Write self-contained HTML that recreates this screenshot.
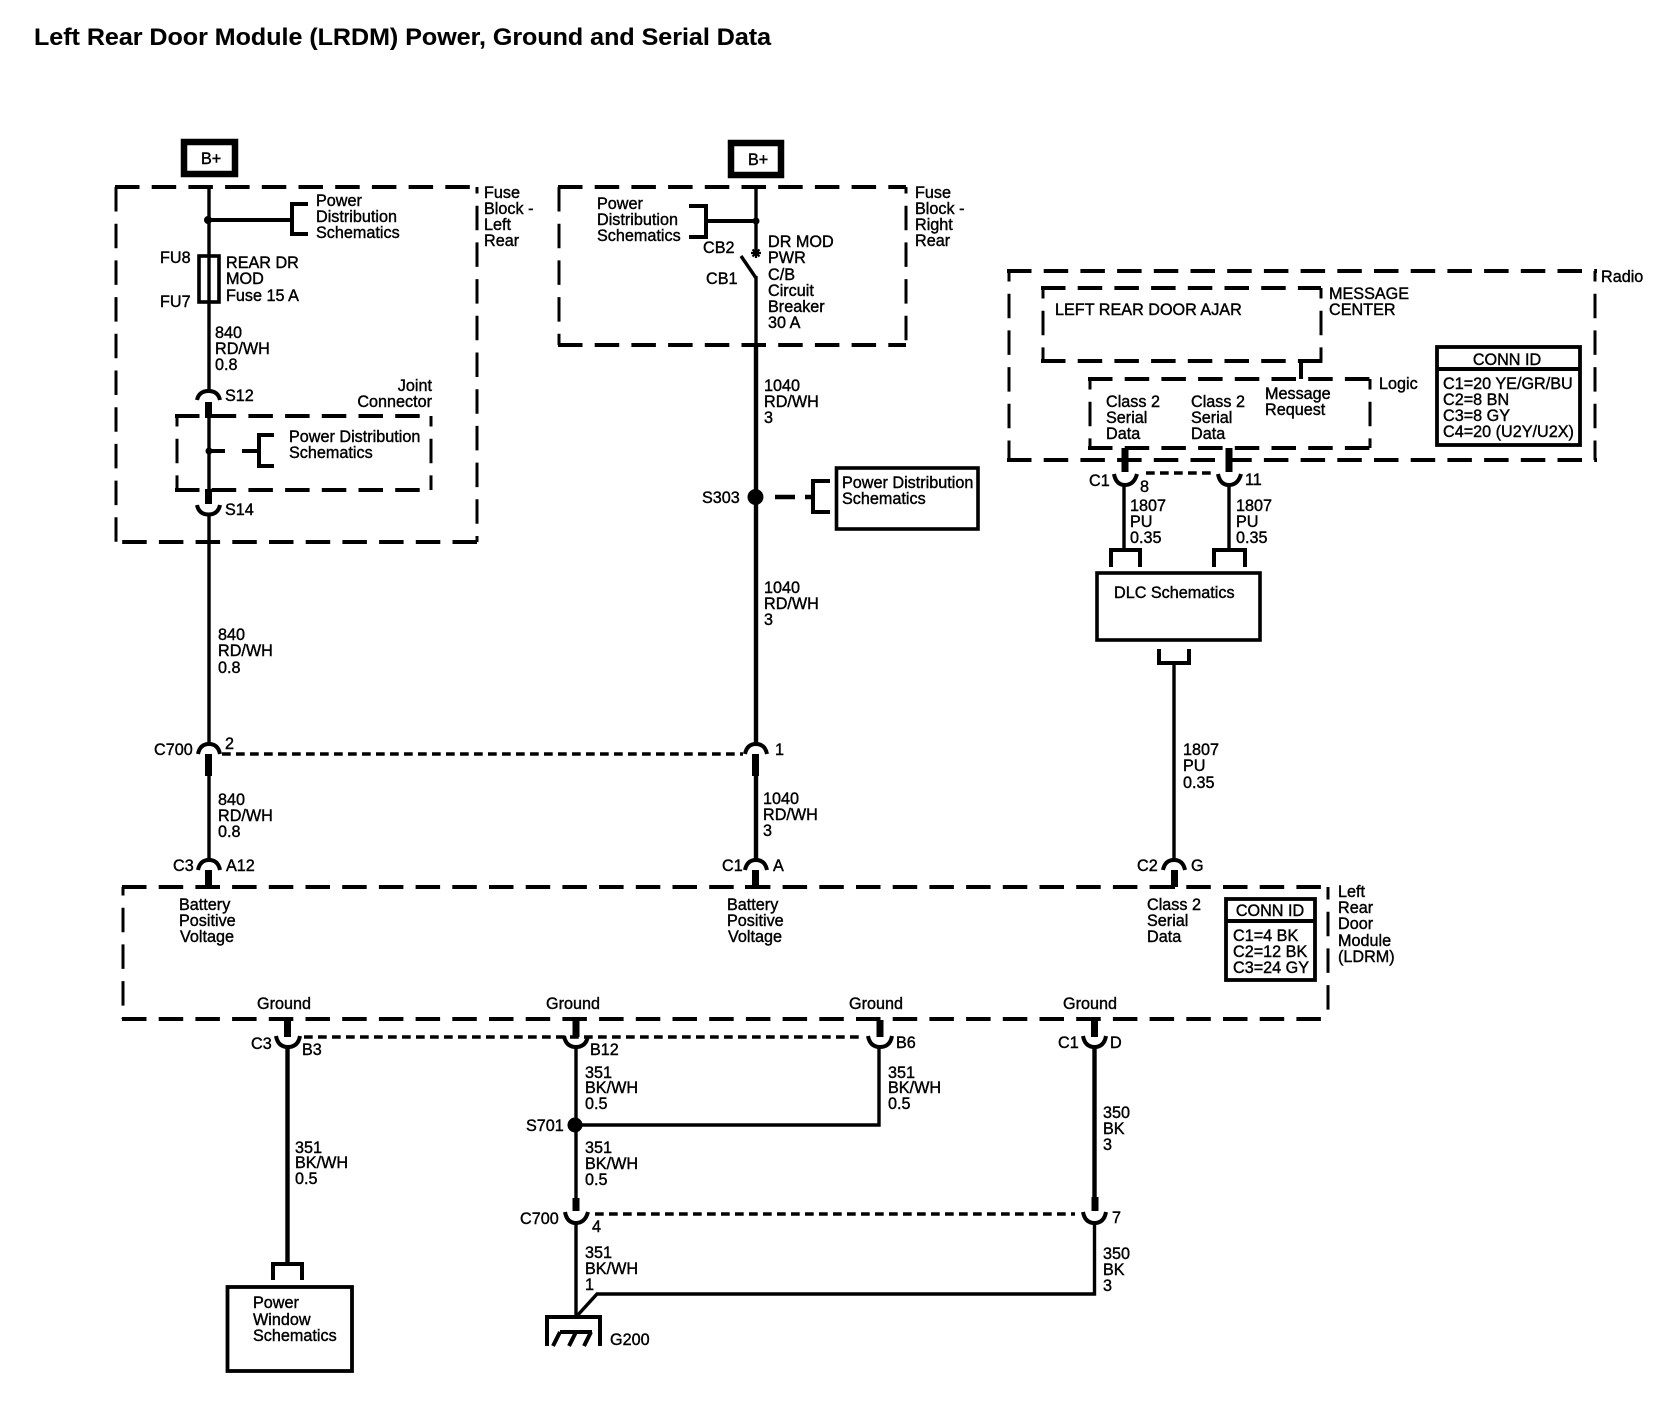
<!DOCTYPE html>
<html><head><meta charset="utf-8"><title>LRDM</title>
<style>
html,body{margin:0;padding:0;background:#fff}
svg{display:block}
text{font-family:"Liberation Sans",Arial,sans-serif;font-size:16.2px;fill:#000;stroke:#000;stroke-width:.4px}
.t{font-size:24.5px;font-weight:bold;stroke-width:.1px}
.n,.h,.v,.d,.w,.x,.s,.b,.a{fill:none;stroke:#000}
.h{stroke-width:4;stroke-dasharray:24.5 12.2}
.v{stroke-width:3;stroke-dasharray:24.5 12.2}
.d{stroke-width:3.4;stroke-dasharray:8.7 5.3}
.w{stroke-width:3.4}
.x{stroke-width:4.4}
.s{stroke-width:7}
.b{stroke-width:4}
.a{stroke-width:4}
</style></head><body>
<svg width="1658" height="1408" viewBox="0 0 1658 1408" xmlns="http://www.w3.org/2000/svg">
<rect width="1658" height="1408" fill="#fff"/>
<text class="t" x="34" y="45" textLength="737" lengthAdjust="spacingAndGlyphs">Left Rear Door Module (LRDM) Power, Ground and Serial Data</text>

<!-- B+ boxes -->
<rect x="184" y="142" width="51" height="32" fill="none" stroke="#000" stroke-width="6.5"/>
<text x="201" y="164">B+</text>
<rect x="731" y="143" width="50" height="32" fill="none" stroke="#000" stroke-width="6.5"/>
<text x="748" y="165">B+</text>

<!-- dashed: left fuse block -->
<path class="h" d="M115 187H477"/><path class="h" d="M477 542H115"/>
<path class="v" d="M116 187V542"/><path class="v" d="M477 187V542" stroke-dashoffset="18"/>
<!-- joint connector -->
<path class="h" d="M175 416H431"/><path class="h" d="M175 490H431"/>
<path class="v" d="M177 416V490" stroke-dashoffset="14"/><path class="v" d="M431 416V490" stroke-dashoffset="14"/>
<!-- right fuse block -->
<path class="h" d="M558 187H906"/><path class="h" d="M558 345H906"/>
<path class="v" d="M559 187V345"/><path class="v" d="M906 187V345" stroke-dashoffset="18"/>
<!-- radio -->
<path class="h" d="M1007 271H1597"/><path class="h" d="M1007 460H1597"/>
<path class="v" d="M1009 271V460" stroke-dashoffset="14"/><path class="v" d="M1595 271V460" stroke-dashoffset="14"/>
<!-- message center -->
<path class="h" d="M1041 288H1321"/><path class="h" d="M1041 361H1323"/>
<path class="v" d="M1043 288V361" stroke-dashoffset="14"/><path class="v" d="M1321 288V361" stroke-dashoffset="14"/>
<!-- logic -->
<path class="h" d="M1088 379H1372"/><path class="h" d="M1088 448H1372"/>
<path class="v" d="M1090 379V448" stroke-dashoffset="14"/><path class="v" d="M1370 379V448" stroke-dashoffset="14"/>
<!-- LRDM module -->
<path class="h" d="M122 887H1328"/><path class="h" d="M122 1019H1330"/>
<path class="v" d="M123 887V1019" stroke-dashoffset="16"/><path class="v" d="M1328 887V1019" stroke-dashoffset="12"/>

<!-- left wire -->
<path class="w" d="M209 187V256M209 302V392M209 418V489M209 514V744M209 776V860"/>
<circle cx="208" cy="220" r="4" fill="#000"/>
<path class="b" d="M208 220H292"/>
<path class="b" d="M308 204H292V234H308"/>
<rect x="199" y="256" width="20" height="46" fill="#fff" stroke="#000" stroke-width="3.6"/>
<path class="w" d="M209 256V302"/>
<path class="a" d="M197 400Q199 391 208.500 391Q218 391 220 400"/>
<path class="s" d="M208.500 402V418"/>
<circle cx="209" cy="451" r="3.500" fill="#000"/>
<path class="b" d="M209 451H225M242 451H259"/>
<path class="b" d="M274 435H259V466H274"/>
<path class="s" d="M208.500 489V504"/>
<path class="a" d="M197 505Q199 514.500 208.500 514.500Q218 514.500 220 505"/>

<!-- right wire -->
<path class="w" d="M756 187V253M756 276V345"/>
<path class="x" d="M756 345V744M756 776V860"/>
<circle cx="756" cy="221" r="3.500" fill="#000"/>
<path class="b" d="M706 221H756"/>
<path class="b" d="M689 206H706V237H689"/>
<path d="M741 256L756 278" class="w"/>
<path d="M751 253H761M756 248V258M752.500 249.500L759.500 256.500M759.500 249.500L752.500 256.500" fill="none" stroke="#000" stroke-width="2.2"/>
<circle cx="755.500" cy="497" r="8" fill="#000"/>
<path d="M775 497H795M805 497H813" fill="none" stroke="#000" stroke-width="4.6"/>
<path class="b" d="M830 481H813V512H830"/>

<!-- C700 row -->
<path class="a" d="M198 754Q200 744 209 744Q218 744 220 754"/>
<path class="a" d="M745 754Q747 744 756 744Q765 744 767 754"/>
<path class="d" d="M222 754H743"/>
<path class="s" d="M208.500 754V776M755.500 754V776"/>
<path class="a" d="M198 870Q200 860 209 860Q218 860 220 870"/>
<path class="a" d="M745 870Q747 860 756 860Q765 860 767 870"/>
<path class="a" d="M1163 870Q1165 860 1174 860Q1183 860 1185 870"/>
<path class="s" d="M208.500 870V887M755.500 870V887M1174.500 870V887"/>
<path class="b" d="M198 887H220M745 887H767"/>
<path class="b" d="M1160 887H1175"/>

<!-- radio to DLC -->
<path class="b" d="M1301 361V379"/>
<path class="s" d="M1125 448V472M1229 448V472"/>
<path class="a" d="M1114 474Q1116 485 1125 485Q1134 485 1137 474"/>
<path class="a" d="M1218 474Q1220 485 1229 485Q1238 485 1241 474"/>
<path class="d" d="M1146 473H1215"/>
<path class="w" d="M1124 485V550M1229 485V550"/>
<path class="b" d="M1111 567V550H1140V567"/>
<path class="b" d="M1214 567V550H1245V567"/>
<rect x="1097" y="573" width="163" height="67" fill="none" stroke="#000" stroke-width="3.600"/>
<path class="b" d="M1159 649V663H1189V649"/>
<path class="w" d="M1174 663V860"/>

<!-- power dist box -->
<rect x="836.500" y="468" width="141.500" height="61" fill="none" stroke="#000" stroke-width="3.600"/>

<!-- CONN ID boxes -->
<rect x="1437" y="347" width="143" height="98" fill="none" stroke="#000" stroke-width="3.800"/>
<path class="b" d="M1437 369H1580"/>
<rect x="1226" y="899" width="89" height="81" fill="none" stroke="#000" stroke-width="3.800"/>
<path class="b" d="M1226 921H1315"/>

<!-- ground stubs and arcs -->
<path class="s" d="M287.500 1020V1037M576 1020V1037M880 1020V1037M1094.500 1020V1037"/>
<path class="a" d="M276 1036Q278 1047 288 1047Q298 1047 300 1036"/>
<path class="a" d="M564 1036Q566 1047 576 1047Q586 1047 588 1036"/>
<path class="a" d="M868 1036Q870 1047 880 1047Q890 1047 892 1036"/>
<path class="a" d="M1083 1036Q1085 1047 1094.500 1047Q1104 1047 1106 1036"/>
<path class="d" d="M304 1037H862"/>
<path class="x" d="M287.500 1047V1264"/>
<path class="b" d="M273 1280V1264H302V1280"/>
<rect x="227.500" y="1287" width="124.500" height="84" fill="none" stroke="#000" stroke-width="3.800"/>
<path class="w" d="M576 1047V1198"/>
<circle cx="575" cy="1125" r="7.500" fill="#000"/>
<path class="w" d="M575 1125H879V1047"/>
<path class="x" d="M1094.500 1047V1198"/>
<path class="s" d="M576 1198V1211M1095 1197V1211"/>
<path class="a" d="M565 1212Q567 1223 576 1223Q585 1223 588 1212"/>
<path class="a" d="M1083 1212Q1085 1223 1094.500 1223Q1104 1223 1106 1212"/>
<path class="d" d="M595 1214H1075"/>
<path class="w" d="M576 1223V1317"/>
<path class="w" d="M1094.500 1223V1294H597L576 1317"/>
<path class="b" d="M547 1346V1317H600V1346"/>
<path class="b" d="M560 1332H592M560 1332L553 1346M576 1332L569 1346M591 1332L584 1346"/>

<!-- labels: left block -->
<text x="316" y="206">Power</text><text x="316" y="222">Distribution</text><text x="316" y="238">Schematics</text>
<text x="484" y="198">Fuse</text><text x="484" y="214">Block -</text><text x="484" y="230">Left</text><text x="484" y="246">Rear</text>
<text x="160" y="263">FU8</text><text x="160" y="307">FU7</text>
<text x="226" y="268">REAR DR</text><text x="226" y="284">MOD</text><text x="226" y="301">Fuse 15 A</text>
<text x="215" y="338">840</text><text x="215" y="354">RD/WH</text><text x="215" y="370">0.8</text>
<text x="225" y="401">S12</text><text x="225" y="515">S14</text>
<text x="432" y="391" text-anchor="end">Joint</text><text x="432" y="407" text-anchor="end">Connector</text>
<text x="289" y="442">Power Distribution</text><text x="289" y="458">Schematics</text>
<text x="218" y="640">840</text><text x="218" y="656">RD/WH</text><text x="218" y="673">0.8</text>

<!-- labels: right block -->
<text x="597" y="209">Power</text><text x="597" y="225">Distribution</text><text x="597" y="241">Schematics</text>
<text x="703" y="253">CB2</text><text x="706" y="284">CB1</text>
<text x="768" y="247">DR MOD</text><text x="768" y="263">PWR</text><text x="768" y="280">C/B</text><text x="768" y="296">Circuit</text><text x="768" y="312">Breaker</text><text x="768" y="328">30 A</text>
<text x="915" y="198">Fuse</text><text x="915" y="214">Block -</text><text x="915" y="230">Right</text><text x="915" y="246">Rear</text>
<text x="764" y="391">1040</text><text x="764" y="407">RD/WH</text><text x="764" y="423">3</text>
<text x="702" y="503">S303</text>
<text x="842" y="488">Power Distribution</text><text x="842" y="504">Schematics</text>
<text x="764" y="593">1040</text><text x="764" y="609">RD/WH</text><text x="764" y="625">3</text>

<!-- labels: radio -->
<text x="1601" y="282">Radio</text>
<text x="1055" y="315">LEFT REAR DOOR AJAR</text>
<text x="1329" y="299">MESSAGE</text><text x="1329" y="315">CENTER</text>
<text x="1379" y="389">Logic</text>
<text x="1106" y="407">Class 2</text><text x="1106" y="423">Serial</text><text x="1106" y="439">Data</text>
<text x="1191" y="407">Class 2</text><text x="1191" y="423">Serial</text><text x="1191" y="439">Data</text>
<text x="1265" y="399">Message</text><text x="1265" y="415">Request</text>
<text x="1507" y="365" text-anchor="middle">CONN ID</text>
<text x="1443" y="389">C1=20 YE/GR/BU</text><text x="1443" y="405">C2=8 BN</text><text x="1443" y="421">C3=8 GY</text><text x="1443" y="437">C4=20 (U2Y/U2X)</text>
<text x="1089" y="486">C1</text><text x="1140" y="492">8</text><text x="1245" y="485">11</text>
<text x="1130" y="511">1807</text><text x="1130" y="527">PU</text><text x="1130" y="543">0.35</text>
<text x="1236" y="511">1807</text><text x="1236" y="527">PU</text><text x="1236" y="543">0.35</text>
<text x="1114" y="598">DLC Schematics</text>
<text x="1183" y="755">1807</text><text x="1183" y="771">PU</text><text x="1183" y="788">0.35</text>

<!-- labels: C700 / C3 row -->
<text x="154" y="755">C700</text><text x="225" y="749">2</text><text x="775" y="755">1</text>
<text x="218" y="805">840</text><text x="218" y="821">RD/WH</text><text x="218" y="837">0.8</text>
<text x="763" y="804">1040</text><text x="763" y="820">RD/WH</text><text x="763" y="836">3</text>
<text x="173" y="871">C3</text><text x="226" y="871">A12</text>
<text x="722" y="871">C1</text><text x="773" y="871">A</text>
<text x="1137" y="871">C2</text><text x="1191" y="871">G</text>

<!-- labels: module -->
<text x="179" y="910">Battery</text><text x="179" y="926">Positive</text><text x="180" y="942">Voltage</text>
<text x="727" y="910">Battery</text><text x="727" y="926">Positive</text><text x="728" y="942">Voltage</text>
<text x="1147" y="910">Class 2</text><text x="1147" y="926">Serial</text><text x="1147" y="942">Data</text>
<text x="1270" y="916" text-anchor="middle">CONN ID</text>
<text x="1233" y="941">C1=4 BK</text><text x="1233" y="957">C2=12 BK</text><text x="1233" y="973">C3=24 GY</text>
<text x="1338" y="897">Left</text><text x="1338" y="913">Rear</text><text x="1338" y="929">Door</text><text x="1338" y="946">Module</text><text x="1338" y="962">(LDRM)</text>
<text x="257" y="1009">Ground</text><text x="546" y="1009">Ground</text><text x="849" y="1009">Ground</text><text x="1063" y="1009">Ground</text>

<!-- labels: grounds -->
<text x="251" y="1049">C3</text><text x="302" y="1055">B3</text>
<text x="590" y="1055">B12</text><text x="896" y="1048">B6</text>
<text x="1058" y="1048">C1</text><text x="1110" y="1048">D</text>
<text x="585" y="1078">351</text><text x="585" y="1093">BK/WH</text><text x="585" y="1109">0.5</text>
<text x="888" y="1078">351</text><text x="888" y="1093">BK/WH</text><text x="888" y="1109">0.5</text>
<text x="526" y="1131">S701</text>
<text x="295" y="1153">351</text><text x="295" y="1168">BK/WH</text><text x="295" y="1184">0.5</text>
<text x="585" y="1153">351</text><text x="585" y="1169">BK/WH</text><text x="585" y="1185">0.5</text>
<text x="1103" y="1118">350</text><text x="1103" y="1134">BK</text><text x="1103" y="1150">3</text>
<text x="520" y="1224">C700</text><text x="592" y="1232">4</text><text x="1112" y="1223">7</text>
<text x="585" y="1258">351</text><text x="585" y="1274">BK/WH</text><text x="585" y="1290">1</text>
<text x="1103" y="1259">350</text><text x="1103" y="1275">BK</text><text x="1103" y="1291">3</text>
<text x="610" y="1345">G200</text>
<text x="253" y="1308">Power</text><text x="253" y="1325">Window</text><text x="253" y="1341">Schematics</text>
</svg>
</body></html>
